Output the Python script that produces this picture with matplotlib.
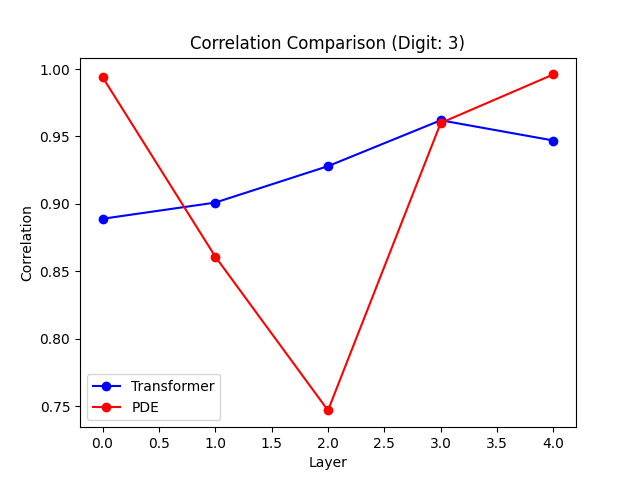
import matplotlib
matplotlib.use("Agg")
import matplotlib.pyplot as plt

layers = [0, 1, 2, 3, 4]
transformer = [0.889, 0.901, 0.928, 0.962, 0.947]
pde = [0.994, 0.861, 0.747, 0.960, 0.996]

fig, ax = plt.subplots(figsize=(6.4, 4.8), dpi=100)
ax.plot(layers, transformer, 'o-', color='blue', label='Transformer')
ax.plot(layers, pde, 'o-', color='red', label='PDE')
ax.set_title('Correlation Comparison (Digit: 3)')
ax.set_xlabel('Layer')
ax.set_ylabel('Correlation')
ax.legend(loc='lower left')
fig.savefig('out.png')
